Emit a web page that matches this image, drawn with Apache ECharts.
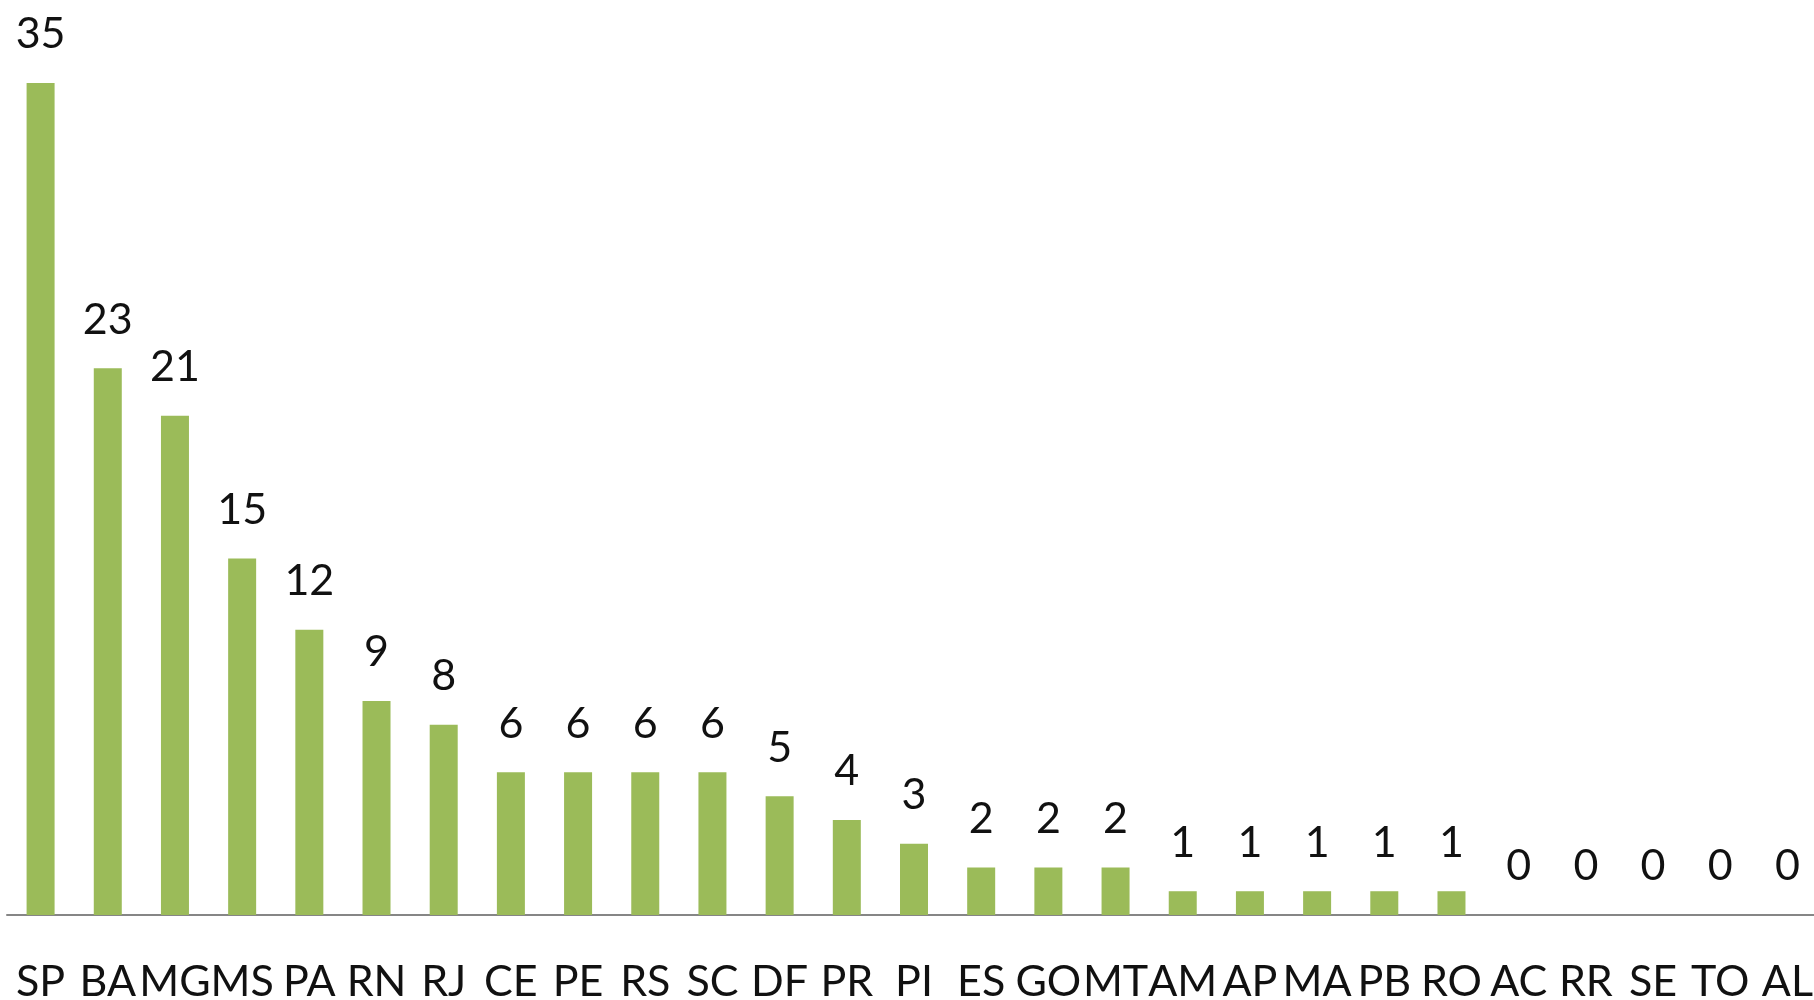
<!DOCTYPE html>
<html>
<head>
<meta charset="utf-8">
<script src="https://cdn.jsdelivr.net/npm/echarts@6/dist/echarts.min.js"></script>
<style>html,body{margin:0;padding:0;background:#fff}#c{width:1814px;height:1000px}</style>
</head>
<body>
<div id="c"></div>
<script>
const categories = ["SP","BA","MG","MS","PA","RN","RJ","CE","PE","RS","SC","DF","PR","PI","ES","GO","MT","AM","AP","MA","PB","RO","AC","RR","SE","TO","AL"];
const values = [35,23,21,15,12,9,8,6,6,6,6,5,4,3,2,2,2,1,1,1,1,1,0,0,0,0,0];

const chart = echarts.init(document.getElementById('c'), null, {renderer: 'canvas'});
chart.setOption({
  animation: false,
  grid: {left: 7, right: -7, top: 83, bottom: 85, containLabel: false, outerBoundsMode: 'none'},
  xAxis: {
    type: 'category',
    data: categories,
    axisLine: {show: true, lineStyle: {color: '#868686', width: 2}},
    axisTick: {show: false},
    axisLabel: {interval: 0, margin: 46, fontFamily: 'Lato', fontSize: 43, color: '#111'}
  },
  yAxis: {
    type: 'value', min: 0, max: 35, show: false,
    splitLine: {show: false}
  },
  series: [{
    type: 'bar',
    data: values,
    barWidth: 28,
    itemStyle: {color: '#9BBB59'},
    label: {show: true, position: 'top', distance: 27, fontFamily: 'Lato', fontSize: 43, color: '#111'}
  }]
});
</script>
</body>
</html>
